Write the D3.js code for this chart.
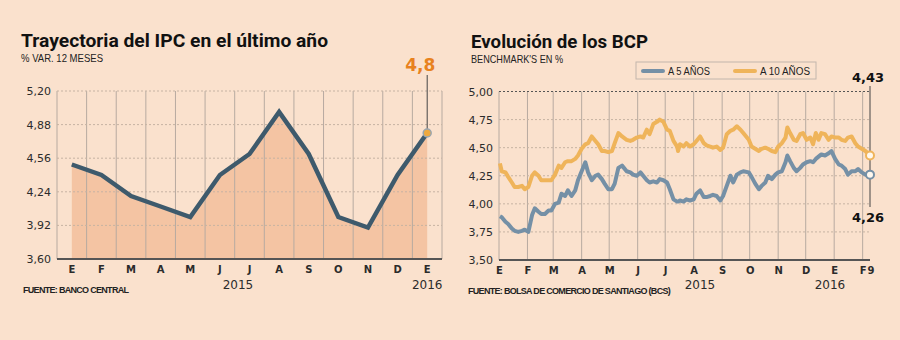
<!DOCTYPE html>
<html>
<head>
<meta charset="utf-8">
<script src="https://cdn.jsdelivr.net/npm/d3@7"></script>
<style>
  body { margin: 0; background: #fae1cd; }
  svg { display: block; }
  text { font-family: "DejaVu Sans", sans-serif; fill: #2b2b2b; }
  .title { font-family: Roboto, "DejaVu Sans", sans-serif; font-weight: 700; font-size: 18px; fill: #111; }
  .sub, .fuente, .legend text { font-family: "Liberation Sans", sans-serif; fill: #222; }
  .sub { font-size: 10.5px; }
  .fuente { font-size: 9px; font-weight: 700; letter-spacing: -0.7px; }
  .axis text { font-size: 11px; }
  .axis.x text { font-size: 10px; font-weight: 700; }
  .year { font-size: 12px; text-anchor: middle; }
  .grid-v { stroke: #b7aaa0; stroke-width: 1; }
  .grid-h { stroke: #c6b3a3; stroke-width: 1; stroke-dasharray: 2 2; }
  .base { stroke: #555; stroke-width: 2; }
  .leader { stroke: #444; stroke-width: 1; }
</style>
</head>
<body>
<svg id="chart" width="900" height="340"></svg>
<script>
// IPC, variacion en 12 meses
const meses = ['E','F','M','A','M','J','J','A','S','O','N','D','E'];
const ipc = [4.5, 4.4, 4.2, 4.1, 4.0, 4.4, 4.6, 5.0, 4.6, 4.0, 3.9, 4.4, 4.8];
const ipcTicks = [3.60, 3.92, 4.24, 4.56, 4.88, 5.20];

// BCP a 5 y 10 años
const fechas = [
  '2015-01-02','2015-01-04','2015-01-08','2015-01-11','2015-01-15','2015-01-18','2015-01-22','2015-01-26','2015-01-29',
  '2015-02-02','2015-02-06','2015-02-09','2015-02-13','2015-02-16','2015-02-20','2015-02-24','2015-02-27',
  '2015-03-03','2015-03-07','2015-03-10','2015-03-14','2015-03-17','2015-03-21','2015-03-25','2015-03-28',
  '2015-04-01','2015-04-05','2015-04-08','2015-04-12','2015-04-16','2015-04-19','2015-04-23','2015-04-26','2015-04-30',
  '2015-05-04','2015-05-07','2015-05-11','2015-05-15','2015-05-20','2015-05-24','2015-05-27','2015-05-31',
  '2015-06-04','2015-06-07','2015-06-11','2015-06-14','2015-06-18','2015-06-22','2015-06-25','2015-06-29',
  '2015-07-03','2015-07-06','2015-07-10','2015-07-14','2015-07-15','2015-07-17','2015-07-21','2015-07-24','2015-07-28',
  '2015-08-01','2015-08-04','2015-08-08','2015-08-12','2015-08-15','2015-08-19','2015-08-22','2015-08-26','2015-08-30',
  '2015-09-02','2015-09-06','2015-09-10','2015-09-13','2015-09-17','2015-09-21','2015-09-24','2015-09-30',
  '2015-10-03','2015-10-07','2015-10-11','2015-10-14','2015-10-18','2015-10-21','2015-10-25','2015-10-29',
  '2015-11-01','2015-11-05','2015-11-09','2015-11-11','2015-11-14','2015-11-18','2015-11-21','2015-11-25','2015-11-28',
  '2015-12-02','2015-12-06','2015-12-09','2015-12-12','2015-12-15','2015-12-18','2015-12-22','2015-12-26','2015-12-29',
  '2016-01-02','2016-01-06','2016-01-09','2016-01-13','2016-01-16','2016-01-20','2016-01-24','2016-01-27','2016-01-31',
  '2016-02-04','2016-02-09'
];
const bcp5 = [
  3.89,3.88,3.84,3.82,3.78,3.76,3.75,3.76,3.77,
  3.75,3.90,3.96,3.93,3.91,3.91,3.94,3.94,
  4.00,4.01,4.09,4.07,4.12,4.07,4.12,4.21,
  4.29,4.37,4.28,4.21,4.25,4.26,4.22,4.18,4.13,
  4.13,4.18,4.32,4.34,4.29,4.28,4.26,4.25,
  4.28,4.25,4.21,4.19,4.20,4.19,4.22,4.21,
  4.19,4.13,4.04,4.02,4.02,4.03,4.02,4.04,4.03,
  4.04,4.09,4.12,4.06,4.06,4.07,4.08,4.07,4.03,
  4.07,4.16,4.25,4.19,4.26,4.28,4.29,4.28,
  4.24,4.18,4.13,4.16,4.19,4.25,4.22,4.26,
  4.28,4.29,4.37,4.43,4.38,4.32,4.29,4.32,4.35,
  4.37,4.38,4.37,4.40,4.42,4.44,4.43,4.45,4.47,
  4.40,4.35,4.34,4.31,4.26,4.29,4.29,4.31,4.28,
  4.26,4.26
];
const bcp10 = [
  4.36,4.29,4.28,4.24,4.19,4.15,4.15,4.16,4.13,
  4.15,4.25,4.28,4.25,4.21,4.21,4.21,4.21,
  4.26,4.34,4.32,4.37,4.38,4.38,4.40,4.43,
  4.49,4.53,4.54,4.60,4.56,4.53,4.47,4.47,4.46,
  4.47,4.54,4.63,4.60,4.57,4.56,4.57,4.59,
  4.60,4.59,4.66,4.62,4.71,4.73,4.75,4.73,
  4.66,4.65,4.56,4.51,4.47,4.53,4.51,4.54,4.51,
  4.53,4.56,4.60,4.54,4.52,4.51,4.50,4.51,4.48,
  4.50,4.62,4.65,4.66,4.69,4.66,4.63,4.57,
  4.51,4.49,4.47,4.49,4.50,4.49,4.47,4.46,
  4.51,4.54,4.59,4.68,4.63,4.57,4.56,4.62,4.63,
  4.57,4.59,4.53,4.63,4.57,4.63,4.62,4.57,4.60,
  4.59,4.59,4.57,4.56,4.59,4.60,4.54,4.51,4.49,
  4.47,4.43
];
const bcpTicks = [3.50, 3.75, 4.00, 4.25, 4.50, 4.75, 5.00];
const mesesBcp = ['E','F','M','A','M','J','J','A','S','O','N','D','E','F'];

const es = d3.formatLocale({decimal: ',', thousands: '.', grouping: [3], currency: ['$', '']});
const f2 = es.format('.2f');
const f1 = es.format('.1f');
const parse = d3.timeParse('%Y-%m-%d');

const svg = d3.select('#chart');

// ---------------- Trayectoria del IPC ----------------
const g1 = svg.append('g');

g1.append('text').attr('class', 'title').attr('x', 21).attr('y', 47)
  .attr('textLength', 307).attr('lengthAdjust', 'spacingAndGlyphs')
  .text('Trayectoria del IPC en el último año');
g1.append('text').attr('class', 'sub').attr('x', 21).attr('y', 62)
  .attr('textLength', 82).attr('lengthAdjust', 'spacingAndGlyphs')
  .text('% VAR. 12 MESES');

const x1 = d3.scaleBand().domain(d3.range(meses.length)).range([57, 442]);
const y1 = d3.scaleLinear().domain([3.6, 5.2]).range([259, 91]);
const cx = i => x1(i) + x1.bandwidth() / 2;

g1.append('path').datum(ipc)
  .attr('fill', '#f4c4a3')
  .attr('d', d3.area().x((d, i) => cx(i)).y0(y1(3.6)).y1(d => y1(d)));

g1.selectAll('.grid-v').data(d3.range(meses.length + 1)).enter().append('line')
  .attr('class', 'grid-v')
  .attr('x1', i => i < meses.length ? x1(i) : x1.range()[1])
  .attr('x2', i => i < meses.length ? x1(i) : x1.range()[1])
  .attr('y1', y1(5.2)).attr('y2', y1(3.6));

g1.selectAll('.grid-h').data(ipcTicks.slice(1)).enter().append('line')
  .attr('class', 'grid-h')
  .attr('x1', 57).attr('x2', 442)
  .attr('y1', d => y1(d)).attr('y2', d => y1(d));

g1.append('g').attr('class', 'axis y').attr('transform', 'translate(57,0)')
  .call(d3.axisLeft(y1).tickValues(ipcTicks).tickFormat(f2).tickSize(0).tickPadding(6))
  .call(g => g.select('.domain').remove());

g1.append('g').attr('class', 'axis x').attr('transform', 'translate(0,259)')
  .call(d3.axisBottom(x1).tickFormat(i => meses[i]).tickSize(0).tickPadding(7))
  .call(g => g.select('.domain').remove());

g1.append('line').attr('class', 'base').attr('x1', 57).attr('x2', 442).attr('y1', 259).attr('y2', 259);

g1.append('path').datum(ipc)
  .attr('fill', 'none').attr('stroke', '#3e5a6c').attr('stroke-width', 4.5)
  .attr('d', d3.line().x((d, i) => cx(i)).y(d => y1(d)));

const last1 = ipc.length - 1;
g1.append('line').attr('class', 'leader')
  .attr('x1', cx(last1)).attr('x2', cx(last1)).attr('y1', 75).attr('y2', y1(ipc[last1]));
g1.append('circle').attr('cx', cx(last1)).attr('cy', y1(ipc[last1])).attr('r', 4)
  .attr('fill', '#efa93e').attr('stroke', '#9aa6b0').attr('stroke-width', 1.5);
g1.append('text').attr('x', cx(last1) - 7).attr('y', 71).attr('text-anchor', 'middle')
  .style('font-size', '17px').style('font-weight', 700).style('fill', '#e8821e')
  .text(f1(ipc[last1]));

g1.append('text').attr('class', 'year').attr('x', 238).attr('y', 289).text('2015');
g1.append('text').attr('class', 'year').attr('x', cx(last1)).attr('y', 289).text('2016');
g1.append('text').attr('class', 'fuente').attr('x', 23).attr('y', 293)
  .text('FUENTE: BANCO CENTRAL');

// ---------------- Evolución de los BCP ----------------
const g2 = svg.append('g');

g2.append('text').attr('class', 'title').attr('x', 471).attr('y', 48)
  .attr('textLength', 177).attr('lengthAdjust', 'spacingAndGlyphs')
  .text('Evolución de los BCP');
g2.append('text').attr('class', 'sub').attr('x', 471).attr('y', 63)
  .attr('textLength', 92).attr('lengthAdjust', 'spacingAndGlyphs')
  .text("BENCHMARK'S EN %");

const dias = fechas.map(parse);
const inicio = new Date(2015, 0, 1), fin = dias[dias.length - 1];
const x2 = d3.scaleTime().domain([inicio, fin]).range([499, 870]);
const y2 = d3.scaleLinear().domain([3.5, 5]).range([260, 91.5]);
const mesesTicks = d3.timeMonth.range(inicio, new Date(2016, 1, 2));

g2.selectAll('.grid-v').data(mesesTicks).enter().append('line')
  .attr('class', 'grid-v')
  .attr('x1', d => x2(d)).attr('x2', d => x2(d))
  .attr('y1', y2(5)).attr('y2', y2(3.5));

g2.selectAll('.grid-h').data(bcpTicks.slice(1)).enter().append('line')
  .attr('class', 'grid-h')
  .attr('x1', 499).attr('x2', 870)
  .attr('y1', d => y2(d)).attr('y2', d => y2(d))
  .style('stroke', d => d === 5 ? '#555' : null);

g2.append('g').attr('class', 'axis y').attr('transform', 'translate(499,0)')
  .call(d3.axisLeft(y2).tickValues(bcpTicks).tickFormat(f2).tickSize(0).tickPadding(6))
  .call(g => g.select('.domain').remove());

g2.append('g').attr('class', 'axis x').attr('transform', 'translate(0,260)')
  .call(d3.axisBottom(x2).tickValues(mesesTicks).tickFormat((d, i) => mesesBcp[i]).tickSize(0).tickPadding(7))
  .call(g => g.select('.domain').remove());
g2.select('.axis.x').append('text')
  .attr('x', x2(fin) + 1).attr('y', 7).attr('dy', '0.71em').attr('text-anchor', 'middle')
  .text(d3.timeFormat('%-d')(fin));

g2.append('line').attr('class', 'base').attr('x1', 499).attr('x2', 870).attr('y1', 260).attr('y2', 260);

const serie = vals => d3.line().x((d, i) => x2(dias[i])).y(d => y2(d)).curve(d3.curveLinear)(vals);
g2.append('path').attr('d', serie(bcp10))
  .attr('fill', 'none').attr('stroke', '#efb45a').attr('stroke-width', 4).attr('stroke-linejoin', 'round');
g2.append('path').attr('d', serie(bcp5))
  .attr('fill', 'none').attr('stroke', '#7590a6').attr('stroke-width', 4).attr('stroke-linejoin', 'round');

// marcas del último dato
const n = dias.length - 1;
g2.append('line').attr('class', 'leader')
  .attr('x1', x2(fin)).attr('x2', x2(fin)).attr('y1', 86).attr('y2', 207);
g2.append('circle').attr('cx', x2(fin)).attr('cy', y2(bcp10[n])).attr('r', 4)
  .attr('fill', '#fff8ee').attr('stroke', '#efb45a').attr('stroke-width', 2);
g2.append('circle').attr('cx', x2(fin)).attr('cy', y2(bcp5[n])).attr('r', 4)
  .attr('fill', '#fff8ee').attr('stroke', '#7590a6').attr('stroke-width', 2);
g2.append('text').attr('x', x2(fin) - 2).attr('y', 82).attr('text-anchor', 'middle')
  .style('font-size', '13px').style('font-weight', 700).style('fill', '#111')
  .text(f2(bcp10[n]));
g2.append('text').attr('x', x2(fin) - 2).attr('y', 222).attr('text-anchor', 'middle')
  .style('font-size', '13px').style('font-weight', 700).style('fill', '#111')
  .text(f2(bcp5[n]));

// leyenda
const leg = g2.append('g').attr('class', 'legend');
leg.append('rect').attr('x', 636).attr('y', 62).attr('width', 180).attr('height', 17)
  .attr('fill', 'none').attr('stroke', '#c2b6ac');
const items = [
  {nombre: 'A 5 AÑOS', color: '#7590a6', x: 643, w: 42},
  {nombre: 'A 10 AÑOS', color: '#efb45a', x: 735, w: 50}
];
items.forEach(it => {
  leg.append('line').attr('x1', it.x).attr('x2', it.x + 20).attr('y1', 71).attr('y2', 71)
    .attr('stroke', it.color).attr('stroke-width', 4).attr('stroke-linecap', 'round');
  leg.append('text').attr('x', it.x + 25).attr('y', 75).style('font-size', '10px')
    .attr('textLength', it.w).attr('lengthAdjust', 'spacingAndGlyphs')
    .text(it.nombre);
});

g2.append('text').attr('class', 'year').attr('x', 700).attr('y', 289).text('2015');
g2.append('text').attr('class', 'year').attr('x', 830).attr('y', 289).text('2016');
g2.append('text').attr('class', 'fuente').attr('x', 468).attr('y', 294)
  .text('FUENTE: BOLSA DE COMERCIO DE SANTIAGO (BCS)');
</script>
</body>
</html>
